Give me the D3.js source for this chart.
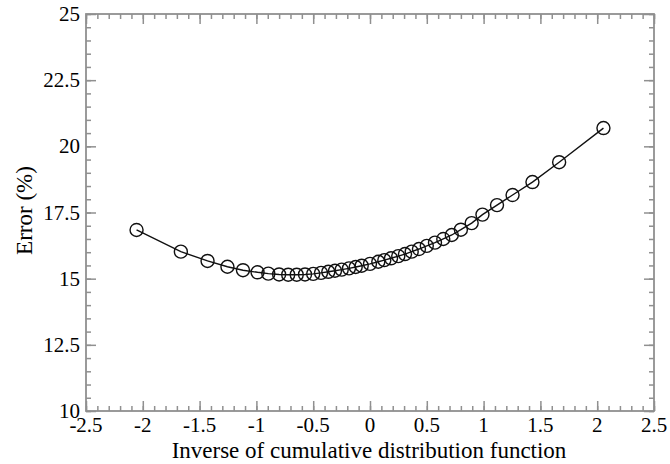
<!DOCTYPE html>
<html>
<head>
<meta charset="utf-8">
<script src="https://cdn.jsdelivr.net/npm/d3@7"></script>
<style>
  html, body { margin: 0; padding: 0; background: #fff; }
  svg { display: block; }
</style>
</head>
<body>
<svg id="chart" width="670" height="464"></svg>
<script>
// values
const quantile = [-2.055, -1.665, -1.43, -1.255, -1.118, -0.99, -0.895, -0.80, -0.72, -0.645,
                  -0.572, -0.50, -0.431, -0.367, -0.308, -0.249, -0.185, -0.126, -0.073, 0,
                  0.073, 0.126, 0.185, 0.249, 0.308, 0.367, 0.431, 0.50, 0.572, 0.645,
                  0.72, 0.80, 0.895, 0.99, 1.118, 1.255, 1.43, 1.665, 2.055];
const errorPct = [16.84, 16.02, 15.67, 15.45, 15.32, 15.24, 15.19, 15.16, 15.15, 15.15,
                  15.16, 15.18, 15.22, 15.26, 15.30, 15.34, 15.39, 15.44, 15.49, 15.56,
                  15.64, 15.70, 15.77, 15.85, 15.93, 16.02, 16.12, 16.24, 16.36, 16.50,
                  16.65, 16.85, 17.10, 17.42, 17.78, 18.16, 18.65, 19.40, 20.69];
const xTicks = [-2.5, -2, -1.5, -1, -0.5, 0, 0.5, 1, 1.5, 2, 2.5];
const yTicks = [10, 12.5, 15, 17.5, 20, 22.5, 25];

(function () {
    const svg = d3.select("#chart");
    const margin = { top: 14, right: 16, bottom: 53, left: 86 };
    const W = 670 - margin.left - margin.right;
    const H = 464 - margin.top - margin.bottom;
    const font = "'Liberation Serif', 'DejaVu Serif', serif";
    const grey = "#909090";

    const x = d3.scaleLinear().domain([-2.5, 2.5]).range([0, W]);
    const y = d3.scaleLinear().domain([10, 25]).range([H, 0]);

    const g = svg.append("g")
        .attr("transform", `translate(${margin.left},${margin.top})`);

    // minor ticks
    const xMinor = d3.range(-25, 26).map(d => d / 10);
    const yMinor = d3.range(20, 51).map(d => d / 2);

    function ticks(axis, vals, len, sel) {
        sel.call(axis.tickValues(vals).tickSize(len).tickFormat(""));
        sel.select(".domain").remove();
        sel.selectAll("line").attr("stroke", grey).attr("stroke-width", 1.5);
    }
    ticks(d3.axisBottom(x), xMinor, -5, g.append("g").attr("transform", `translate(0,${H})`));
    ticks(d3.axisBottom(x), xTicks, -10, g.append("g").attr("transform", `translate(0,${H})`));
    ticks(d3.axisTop(x), xMinor, -5, g.append("g"));
    ticks(d3.axisTop(x), xTicks, -10, g.append("g"));
    ticks(d3.axisLeft(y), yMinor, -5, g.append("g"));
    ticks(d3.axisLeft(y), yTicks, -10, g.append("g"));
    ticks(d3.axisRight(y), yMinor, -5, g.append("g").attr("transform", `translate(${W},0)`));
    ticks(d3.axisRight(y), yTicks, -10, g.append("g").attr("transform", `translate(${W},0)`));

    g.append("rect")
        .attr("width", W).attr("height", H)
        .attr("fill", "none").attr("stroke", grey).attr("stroke-width", 1.8);

    // tick labels
    g.append("g").selectAll("text").data(xTicks).join("text")
        .attr("x", d => x(d)).attr("y", H + 21)
        .attr("text-anchor", "middle")
        .style("font-family", font).style("font-size", "21px")
        .text(d => d);

    g.append("g").selectAll("text").data(yTicks).join("text")
        .attr("x", -6).attr("y", d => y(d) + 7)
        .attr("text-anchor", "end")
        .style("font-family", font).style("font-size", "21px")
        .text(d => d);

    // data
    const pts = quantile.map((q, i) => [q, errorPct[i]]);
    g.append("path")
        .datum(pts)
        .attr("fill", "none").attr("stroke", "#111").attr("stroke-width", 1.4)
        .attr("d", d3.line().x(d => x(d[0])).y(d => y(d[1])));

    g.append("g").selectAll("circle").data(pts).join("circle")
        .attr("cx", d => x(d[0])).attr("cy", d => y(d[1])).attr("r", 6.5)
        .attr("fill", "none").attr("stroke", "#111").attr("stroke-width", 1.4);

    // axis titles
    g.append("text")
        .attr("x", W / 2 - 1).attr("y", H + 47)
        .attr("text-anchor", "middle")
        .style("font-family", font).style("font-size", "23px")
        .text("Inverse of cumulative distribution function");

    g.append("text")
        .attr("transform", "rotate(-90)")
        .attr("x", -(H / 2) + 2).attr("y", -54)
        .attr("text-anchor", "middle")
        .style("font-family", font).style("font-size", "23px")
        .text("Error (%)");
})();
</script>
</body>
</html>
